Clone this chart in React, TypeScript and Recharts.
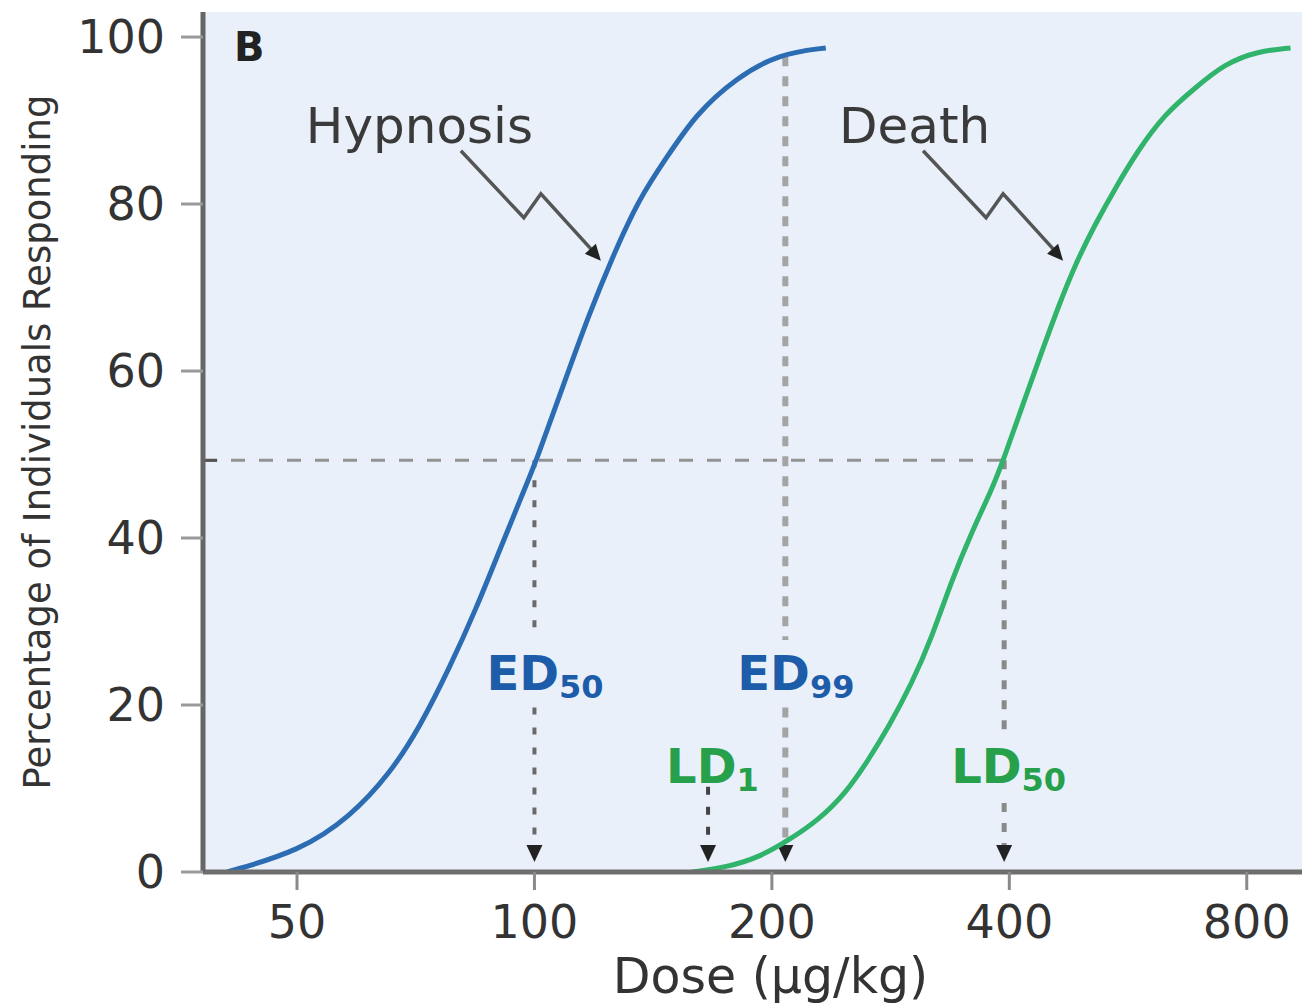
import { CartesianGrid, Line, LineChart, ReferenceDot, ReferenceLine, XAxis, YAxis } from "recharts";

// dose (µg/kg, log axis) vs % responding
const hypnosisDose = [40.8, 50.4, 58.4, 65.6, 71.5, 78.1, 84.5, 90.3, 96.6, 100.6, 108.5, 117.4, 125.5, 135.8, 146.9, 160.3, 180.1, 204.1, 234.1];
const hypnosisPct = [0, 2.5, 6.6, 11.8, 17.3, 24.5, 31.7, 38.5, 45.3, 49.3, 58.0, 66.9, 73.6, 80.7, 85.5, 90.8, 95.1, 98.0, 98.7];

const deathDose = [158.5, 176, 193, 210, 229, 248, 265, 281, 301, 319, 338, 358, 380, 393, 419, 439, 461, 485, 514, 545, 582, 630, 688, 750, 826, 909];
const deathPct = [0, 0.6, 1.8, 3.8, 6.2, 9.4, 13.4, 17.3, 22.6, 28.1, 34.9, 40.6, 45.8, 49.3, 56.8, 62.1, 67.6, 72.8, 77.6, 81.9, 86.4, 90.8, 93.9, 96.8, 98.3, 98.7];

const doseTicks = [50, 100, 200, 400, 800];
const pctTicks = [0, 20, 40, 60, 80, 100];

// marker doses / levels
const halfLevel = 49.3;
const ed50 = 100;
const ed99 = 208;
const ld1 = 166;
const ld50 = 394;

const hypnosis = hypnosisDose.map((d, i) => ({ dose: d, pct: hypnosisPct[i] }));
const death = deathDose.map((d, i) => ({ dose: d, pct: deathPct[i] }));

const FONT = "'DejaVu Sans', Arial, sans-serif";
const BLUE = "#2c6cb3";
const GREEN = "#30b36b";
const LABEL_BLUE = "#1d5ca8";
const LABEL_GREEN = "#27a04c";

function DropLine(p: any) {
  const { x1, y1, x2, y2, color, dash, width, arrow } = p;
  const end = arrow ? y2 - 14 : y2;
  return (
    <g>
      <line x1={x1} y1={y1} x2={x2} y2={end} stroke={color} strokeWidth={width} strokeDasharray={dash} />
      {arrow && <polygon points={`${x2 - 8},${y2 - 17} ${x2 + 8},${y2 - 17} ${x2},${y2}`} fill="#222" />}
    </g>
  );
}

function Callout(p: any) {
  const { cx, cy, text, dx } = p;
  return (
    <g>
      <text x={cx + dx} y={cy - 118} fontFamily={FONT} fontSize={50} fill="#3a3a3a">
        {text}
      </text>
      <polyline
        points={`${cx - 140},${cy - 110} ${cx - 77},${cy - 43} ${cx - 60},${cy - 67} ${cx - 10},${cy - 12}`}
        fill="none"
        stroke="#555"
        strokeWidth={3.5}
      />
      <polygon points={`${cx},${cy} ${cx - 16},${cy - 7} ${cx - 5},${cy - 17}`} fill="#222" />
    </g>
  );
}

function DoseLabel(p: any) {
  const { cx, cy, main, sub, color, dx } = p;
  return (
    <text x={cx + dx} y={cy} fontFamily={FONT} fontWeight="bold" fill={color}>
      <tspan fontSize={48}>{main}</tspan>
      <tspan fontSize={32} dy={8}>
        {sub}
      </tspan>
    </text>
  );
}

export default function App() {
  return (
    <div style={{ position: "absolute", left: 0, top: 0, background: "#fff" }}>
      <LineChart width={1302} height={1005} margin={{ top: 12, right: 0, left: 0, bottom: 0 }}>
        <CartesianGrid fill="#e9f0fa" horizontal={false} vertical={false} />
        <XAxis
          dataKey="dose"
          type="number"
          scale="log"
          domain={[38, 940]}
          allowDataOverflow
          ticks={doseTicks}
          interval={0}
          height={133}
          tickSize={18}
          tickMargin={15}
          tick={{ fontFamily: FONT, fontSize: 46, fill: "#333" }}
          tickLine={{ stroke: "#8a8a8a", strokeWidth: 3 }}
          axisLine={{ stroke: "#6e6e6e", strokeWidth: 5 }}
          label={{
            content: (lp: any) => (
              <text
                x={lp.viewBox.x + lp.viewBox.width / 2 + 18}
                y={lp.viewBox.y + 121}
                textAnchor="middle"
                fontFamily={FONT}
                fontSize={49}
                fill="#333"
              >
                Dose (µg/kg)
              </text>
            ),
          }}
        />
        <YAxis
          type="number"
          domain={[0, 103]}
          allowDataOverflow
          ticks={pctTicks}
          interval={0}
          width={203}
          tickSize={22}
          tickMargin={16}
          tick={{ fontFamily: FONT, fontSize: 46, fill: "#333" }}
          tickLine={{ stroke: "#9a9a9a", strokeWidth: 3 }}
          axisLine={{ stroke: "#666", strokeWidth: 5 }}
          label={{
            content: (lp: any) => {
              const x = lp.viewBox.x + 50;
              const y = lp.viewBox.y + lp.viewBox.height / 2;
              return (
                <text
                  x={x}
                  y={y}
                  transform={`rotate(-90 ${x} ${y})`}
                  textAnchor="middle"
                  fontFamily={FONT}
                  fontSize={37}
                  fill="#333"
                >
                  Percentage of Individuals Responding
                </text>
              );
            },
          }}
        />

        {/* 50% level */}
        <ReferenceLine
          segment={[{ x: 38, y: halfLevel }, { x: ld50, y: halfLevel }]}
          shape={(p: any) => <DropLine {...p} color="#939393" width={3} dash="14 14" />}
        />
        <ReferenceLine
          segment={[{ x: 38, y: halfLevel }, { x: 39.6, y: halfLevel }]}
          stroke="#555"
          strokeWidth={3}
        />

        {/* ED50 */}
        <ReferenceLine
          segment={[{ x: ed50, y: halfLevel }, { x: ed50, y: 27.8 }]}
          shape={(p: any) => <DropLine {...p} color="#6a6a6a" width={4} dash="7 13" />}
        />
        <ReferenceLine
          segment={[{ x: ed50, y: 19.7 }, { x: ed50, y: 1.2 }]}
          shape={(p: any) => <DropLine {...p} color="#6a6a6a" width={4} dash="7 13" arrow />}
        />
        {/* ED99 */}
        <ReferenceLine
          segment={[{ x: ed99, y: 97.7 }, { x: ed99, y: 27.8 }]}
          shape={(p: any) => <DropLine {...p} color="#a4a4a4" width={6} dash="10 10" />}
        />
        <ReferenceLine
          segment={[{ x: ed99, y: 19.7 }, { x: ed99, y: 1.2 }]}
          shape={(p: any) => <DropLine {...p} color="#a4a4a4" width={6} dash="10 10" arrow />}
        />
        {/* LD1 */}
        <ReferenceLine
          segment={[{ x: ld1, y: 10.2 }, { x: ld1, y: 1.2 }]}
          shape={(p: any) => <DropLine {...p} color="#444" width={4} dash="8 12" arrow />}
        />
        {/* LD50 */}
        <ReferenceLine
          segment={[{ x: ld50, y: halfLevel }, { x: ld50, y: 17.0 }]}
          shape={(p: any) => <DropLine {...p} color="#8a8a8a" width={5} dash="9 11" />}
        />
        <ReferenceLine
          segment={[{ x: ld50, y: 8.25 }, { x: ld50, y: 1.2 }]}
          shape={(p: any) => <DropLine {...p} color="#8a8a8a" width={5} dash="9 11" arrow />}
        />

        <Line data={hypnosis} dataKey="pct" type="basis" stroke={BLUE} strokeWidth={5} dot={false} isAnimationActive={false} />
        <Line data={death} dataKey="pct" type="basis" stroke={GREEN} strokeWidth={5} dot={false} isAnimationActive={false} />

        <ReferenceDot x={ed50} y={21.8} shape={(p: any) => <DoseLabel {...p} main="ED" sub="50" color={LABEL_BLUE} dx={-48} />} />
        <ReferenceDot x={ed99} y={21.8} shape={(p: any) => <DoseLabel {...p} main="ED" sub="99" color={LABEL_BLUE} dx={-48} />} />
        <ReferenceDot x={ld1} y={10.6} shape={(p: any) => <DoseLabel {...p} main="LD" sub="1" color={LABEL_GREEN} dx={-42} />} />
        <ReferenceDot x={ld50} y={10.6} shape={(p: any) => <DoseLabel {...p} main="LD" sub="50" color={LABEL_GREEN} dx={-53} />} />

        <ReferenceDot x={121.4} y={73.2} shape={(p: any) => <Callout {...p} text="Hypnosis" dx={-295} />} />
        <ReferenceDot x={468} y={73.2} shape={(p: any) => <Callout {...p} text="Death" dx={-224} />} />

        <ReferenceDot
          x={41.6}
          y={97.1}
          shape={(p: any) => (
            <text x={p.cx} y={p.cy} fontFamily={FONT} fontWeight="bold" fontSize={40} fill="#222">
              B
            </text>
          )}
        />
      </LineChart>
    </div>
  );
}
